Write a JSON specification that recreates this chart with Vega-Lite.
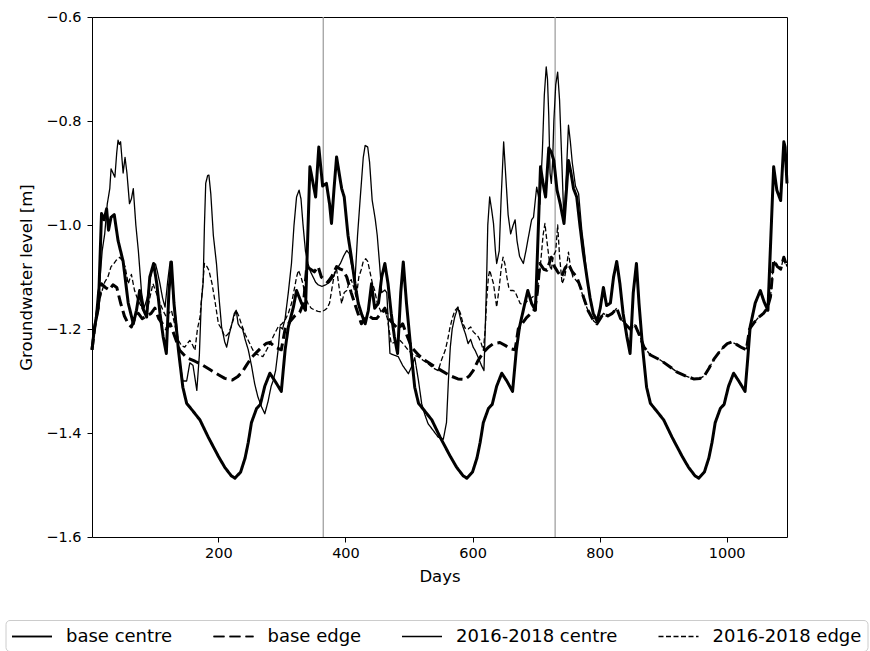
{
"$schema": "https://vega.github.io/schema/vega-lite/v6.json",
"width": 695,
"height": 520,
"autosize": {"type": "none"},
"padding": {"left": 92, "top": 17, "right": 83, "bottom": 114},
"background": "white",
"config": {
  "font": "DejaVu Sans",
  "view": {"stroke": "black", "strokeWidth": 1},
  "axis": {"domain": false, "grid": false, "tickColor": "black", "tickSize": 5, "tickWidth": 1, "labelColor": "black", "labelFont": "DejaVu Sans", "labelFontSize": 14.5, "titleFont": "DejaVu Sans", "titleFontSize": 16.5, "titleFontWeight": "normal", "titleColor": "black"}
},
"datasets": {
"base": [
{"s":"base centre","d":1,"v":-1.24},{"s":"base centre","d":5,"v":-1.196},{"s":"base centre","d":11,"v":-1.16},{"s":"base centre","d":16,"v":-0.978},{"s":"base centre","d":20,"v":-0.99},{"s":"base centre","d":24,"v":-0.969},{"s":"base centre","d":27,"v":-1.01},{"s":"base centre","d":31,"v":-0.985},{"s":"base centre","d":36,"v":-0.98},{"s":"base centre","d":42,"v":-1.03},{"s":"base centre","d":50,"v":-1.07},{"s":"base centre","d":58,"v":-1.15},{"s":"base centre","d":66,"v":-1.19},{"s":"base centre","d":71,"v":-1.164},{"s":"base centre","d":76,"v":-1.126},{"s":"base centre","d":81,"v":-1.16},{"s":"base centre","d":87,"v":-1.177},{"s":"base centre","d":92,"v":-1.1},{"s":"base centre","d":98,"v":-1.074},{"s":"base centre","d":103,"v":-1.113},{"s":"base centre","d":108,"v":-1.17},{"s":"base centre","d":113,"v":-1.215},{"s":"base centre","d":118,"v":-1.247},{"s":"base centre","d":122,"v":-1.13},{"s":"base centre","d":126,"v":-1.071},{"s":"base centre","d":130,"v":-1.15},{"s":"base centre","d":137,"v":-1.24},{"s":"base centre","d":144,"v":-1.312},{"s":"base centre","d":150,"v":-1.343},{"s":"base centre","d":160,"v":-1.358},{"s":"base centre","d":171,"v":-1.375},{"s":"base centre","d":184,"v":-1.408},{"s":"base centre","d":200,"v":-1.445},{"s":"base centre","d":210,"v":-1.466},{"s":"base centre","d":220,"v":-1.482},{"s":"base centre","d":226,"v":-1.487},{"s":"base centre","d":235,"v":-1.475},{"s":"base centre","d":242,"v":-1.448},{"s":"base centre","d":247,"v":-1.418},{"s":"base centre","d":252,"v":-1.38},{"s":"base centre","d":260,"v":-1.353},{"s":"base centre","d":266,"v":-1.345},{"s":"base centre","d":273,"v":-1.31},{"s":"base centre","d":281,"v":-1.285},{"s":"base centre","d":289,"v":-1.3},{"s":"base centre","d":299,"v":-1.32},{"s":"base centre","d":305,"v":-1.24},{"s":"base centre","d":310,"v":-1.196},{"s":"base centre","d":318,"v":-1.158},{"s":"base centre","d":323,"v":-1.126},{"s":"base centre","d":331,"v":-1.151},{"s":"base centre","d":337,"v":-1.164},{"s":"base centre","d":344,"v":-0.888},{"s":"base centre","d":349,"v":-0.92},{"s":"base centre","d":353,"v":-0.946},{"s":"base centre","d":358,"v":-0.85},{"s":"base centre","d":364,"v":-0.925},{"s":"base centre","d":370,"v":-0.92},{"s":"base centre","d":375,"v":-0.96},{"s":"base centre","d":378,"v":-0.997},{"s":"base centre","d":382,"v":-0.93},{"s":"base centre","d":386,"v":-0.869},{"s":"base centre","d":390,"v":-0.9},{"s":"base centre","d":394,"v":-0.93},{"s":"base centre","d":398,"v":-0.946},{"s":"base centre","d":404,"v":-1.02},{"s":"base centre","d":409,"v":-1.06},{"s":"base centre","d":415,"v":-1.113},{"s":"base centre","d":420,"v":-1.15},{"s":"base centre","d":425,"v":-1.17},{"s":"base centre","d":431,"v":-1.19},{"s":"base centre","d":436,"v":-1.164},{"s":"base centre","d":441,"v":-1.113},{"s":"base centre","d":446,"v":-1.16},{"s":"base centre","d":452,"v":-1.15},{"s":"base centre","d":457,"v":-1.1},{"s":"base centre","d":462,"v":-1.074},{"s":"base centre","d":467,"v":-1.113},{"s":"base centre","d":472,"v":-1.17},{"s":"base centre","d":477,"v":-1.215},{"s":"base centre","d":482,"v":-1.247},{"s":"base centre","d":487,"v":-1.13},{"s":"base centre","d":491,"v":-1.071},{"s":"base centre","d":496,"v":-1.15},{"s":"base centre","d":503,"v":-1.24},{"s":"base centre","d":509,"v":-1.312},{"s":"base centre","d":515,"v":-1.343},{"s":"base centre","d":525,"v":-1.358},{"s":"base centre","d":536,"v":-1.375},{"s":"base centre","d":549,"v":-1.408},{"s":"base centre","d":565,"v":-1.445},{"s":"base centre","d":575,"v":-1.466},{"s":"base centre","d":585,"v":-1.482},{"s":"base centre","d":591,"v":-1.487},{"s":"base centre","d":600,"v":-1.475},{"s":"base centre","d":607,"v":-1.448},{"s":"base centre","d":612,"v":-1.418},{"s":"base centre","d":617,"v":-1.38},{"s":"base centre","d":625,"v":-1.353},{"s":"base centre","d":631,"v":-1.345},{"s":"base centre","d":638,"v":-1.31},{"s":"base centre","d":646,"v":-1.285},{"s":"base centre","d":654,"v":-1.3},{"s":"base centre","d":663,"v":-1.32},{"s":"base centre","d":669,"v":-1.24},{"s":"base centre","d":674,"v":-1.196},{"s":"base centre","d":681,"v":-1.158},{"s":"base centre","d":687,"v":-1.126},{"s":"base centre","d":693,"v":-1.151},{"s":"base centre","d":699,"v":-1.164},{"s":"base centre","d":707,"v":-0.888},{"s":"base centre","d":711,"v":-0.92},{"s":"base centre","d":715,"v":-0.946},{"s":"base centre","d":720,"v":-0.852},{"s":"base centre","d":724,"v":-0.86},{"s":"base centre","d":728,"v":-0.876},{"s":"base centre","d":733,"v":-0.933},{"s":"base centre","d":738,"v":-0.959},{"s":"base centre","d":744,"v":-0.997},{"s":"base centre","d":748,"v":-0.93},{"s":"base centre","d":751,"v":-0.876},{"s":"base centre","d":755,"v":-0.9},{"s":"base centre","d":759,"v":-0.93},{"s":"base centre","d":764,"v":-0.946},{"s":"base centre","d":769,"v":-1.0},{"s":"base centre","d":774,"v":-1.05},{"s":"base centre","d":780,"v":-1.1},{"s":"base centre","d":785,"v":-1.14},{"s":"base centre","d":790,"v":-1.17},{"s":"base centre","d":796,"v":-1.185},{"s":"base centre","d":801,"v":-1.16},{"s":"base centre","d":806,"v":-1.12},{"s":"base centre","d":811,"v":-1.155},{"s":"base centre","d":817,"v":-1.15},{"s":"base centre","d":822,"v":-1.1},{"s":"base centre","d":827,"v":-1.07},{"s":"base centre","d":832,"v":-1.113},{"s":"base centre","d":837,"v":-1.17},{"s":"base centre","d":843,"v":-1.215},{"s":"base centre","d":848,"v":-1.247},{"s":"base centre","d":853,"v":-1.13},{"s":"base centre","d":858,"v":-1.074},{"s":"base centre","d":862,"v":-1.15},{"s":"base centre","d":868,"v":-1.24},{"s":"base centre","d":874,"v":-1.312},{"s":"base centre","d":880,"v":-1.343},{"s":"base centre","d":890,"v":-1.358},{"s":"base centre","d":901,"v":-1.375},{"s":"base centre","d":914,"v":-1.408},{"s":"base centre","d":930,"v":-1.445},{"s":"base centre","d":940,"v":-1.466},{"s":"base centre","d":950,"v":-1.482},{"s":"base centre","d":956,"v":-1.487},{"s":"base centre","d":965,"v":-1.475},{"s":"base centre","d":972,"v":-1.448},{"s":"base centre","d":977,"v":-1.418},{"s":"base centre","d":982,"v":-1.38},{"s":"base centre","d":990,"v":-1.353},{"s":"base centre","d":996,"v":-1.345},{"s":"base centre","d":1003,"v":-1.31},{"s":"base centre","d":1011,"v":-1.285},{"s":"base centre","d":1019,"v":-1.3},{"s":"base centre","d":1029,"v":-1.32},{"s":"base centre","d":1033,"v":-1.26},{"s":"base centre","d":1037,"v":-1.196},{"s":"base centre","d":1045,"v":-1.15},{"s":"base centre","d":1053,"v":-1.126},{"s":"base centre","d":1059,"v":-1.148},{"s":"base centre","d":1065,"v":-1.164},{"s":"base centre","d":1074,"v":-0.888},{"s":"base centre","d":1079,"v":-0.933},{"s":"base centre","d":1085,"v":-0.953},{"s":"base centre","d":1090,"v":-0.84},{"s":"base centre","d":1092,"v":-0.85},{"s":"base centre","d":1095,"v":-0.92},
{"s":"base edge","d":1,"v":-1.24},{"s":"base edge","d":5,"v":-1.2},{"s":"base edge","d":10,"v":-1.16},{"s":"base edge","d":16,"v":-1.113},{"s":"base edge","d":22,"v":-1.12},{"s":"base edge","d":28,"v":-1.125},{"s":"base edge","d":34,"v":-1.115},{"s":"base edge","d":40,"v":-1.12},{"s":"base edge","d":46,"v":-1.15},{"s":"base edge","d":52,"v":-1.175},{"s":"base edge","d":58,"v":-1.19},{"s":"base edge","d":63,"v":-1.196},{"s":"base edge","d":68,"v":-1.18},{"s":"base edge","d":74,"v":-1.17},{"s":"base edge","d":80,"v":-1.18},{"s":"base edge","d":87,"v":-1.175},{"s":"base edge","d":94,"v":-1.17},{"s":"base edge","d":100,"v":-1.16},{"s":"base edge","d":106,"v":-1.18},{"s":"base edge","d":112,"v":-1.19},{"s":"base edge","d":118,"v":-1.2},{"s":"base edge","d":124,"v":-1.19},{"s":"base edge","d":130,"v":-1.21},{"s":"base edge","d":139,"v":-1.241},{"s":"base edge","d":150,"v":-1.255},{"s":"base edge","d":163,"v":-1.262},{"s":"base edge","d":176,"v":-1.27},{"s":"base edge","d":189,"v":-1.28},{"s":"base edge","d":200,"v":-1.288},{"s":"base edge","d":210,"v":-1.295},{"s":"base edge","d":222,"v":-1.298},{"s":"base edge","d":230,"v":-1.292},{"s":"base edge","d":238,"v":-1.282},{"s":"base edge","d":244,"v":-1.27},{"s":"base edge","d":252,"v":-1.255},{"s":"base edge","d":260,"v":-1.245},{"s":"base edge","d":268,"v":-1.235},{"s":"base edge","d":275,"v":-1.228},{"s":"base edge","d":281,"v":-1.226},{"s":"base edge","d":290,"v":-1.235},{"s":"base edge","d":299,"v":-1.24},{"s":"base edge","d":305,"v":-1.2},{"s":"base edge","d":313,"v":-1.185},{"s":"base edge","d":320,"v":-1.175},{"s":"base edge","d":328,"v":-1.168},{"s":"base edge","d":334,"v":-1.15},{"s":"base edge","d":339,"v":-1.08},{"s":"base edge","d":345,"v":-1.085},{"s":"base edge","d":351,"v":-1.09},{"s":"base edge","d":357,"v":-1.08},{"s":"base edge","d":362,"v":-1.1},{"s":"base edge","d":367,"v":-1.105},{"s":"base edge","d":372,"v":-1.11},{"s":"base edge","d":378,"v":-1.1},{"s":"base edge","d":386,"v":-1.08},{"s":"base edge","d":392,"v":-1.085},{"s":"base edge","d":396,"v":-1.087},{"s":"base edge","d":402,"v":-1.1},{"s":"base edge","d":409,"v":-1.13},{"s":"base edge","d":417,"v":-1.16},{"s":"base edge","d":425,"v":-1.19},{"s":"base edge","d":431,"v":-1.18},{"s":"base edge","d":437,"v":-1.175},{"s":"base edge","d":443,"v":-1.18},{"s":"base edge","d":449,"v":-1.18},{"s":"base edge","d":456,"v":-1.17},{"s":"base edge","d":462,"v":-1.16},{"s":"base edge","d":468,"v":-1.18},{"s":"base edge","d":475,"v":-1.19},{"s":"base edge","d":483,"v":-1.2},{"s":"base edge","d":490,"v":-1.19},{"s":"base edge","d":496,"v":-1.21},{"s":"base edge","d":504,"v":-1.235},{"s":"base edge","d":515,"v":-1.25},{"s":"base edge","d":525,"v":-1.26},{"s":"base edge","d":540,"v":-1.272},{"s":"base edge","d":551,"v":-1.28},{"s":"base edge","d":565,"v":-1.29},{"s":"base edge","d":577,"v":-1.296},{"s":"base edge","d":588,"v":-1.297},{"s":"base edge","d":595,"v":-1.29},{"s":"base edge","d":601,"v":-1.28},{"s":"base edge","d":609,"v":-1.26},{"s":"base edge","d":617,"v":-1.245},{"s":"base edge","d":625,"v":-1.235},{"s":"base edge","d":633,"v":-1.228},{"s":"base edge","d":643,"v":-1.226},{"s":"base edge","d":652,"v":-1.232},{"s":"base edge","d":660,"v":-1.238},{"s":"base edge","d":667,"v":-1.24},{"s":"base edge","d":672,"v":-1.2},{"s":"base edge","d":678,"v":-1.19},{"s":"base edge","d":685,"v":-1.178},{"s":"base edge","d":692,"v":-1.17},{"s":"base edge","d":698,"v":-1.162},{"s":"base edge","d":702,"v":-1.13},{"s":"base edge","d":706,"v":-1.074},{"s":"base edge","d":712,"v":-1.085},{"s":"base edge","d":717,"v":-1.087},{"s":"base edge","d":724,"v":-1.062},{"s":"base edge","d":729,"v":-1.08},{"s":"base edge","d":734,"v":-1.09},{"s":"base edge","d":740,"v":-1.1},{"s":"base edge","d":746,"v":-1.082},{"s":"base edge","d":751,"v":-1.075},{"s":"base edge","d":757,"v":-1.09},{"s":"base edge","d":764,"v":-1.1},{"s":"base edge","d":770,"v":-1.12},{"s":"base edge","d":775,"v":-1.14},{"s":"base edge","d":782,"v":-1.165},{"s":"base edge","d":791,"v":-1.185},{"s":"base edge","d":796,"v":-1.19},{"s":"base edge","d":801,"v":-1.18},{"s":"base edge","d":806,"v":-1.17},{"s":"base edge","d":813,"v":-1.175},{"s":"base edge","d":820,"v":-1.17},{"s":"base edge","d":827,"v":-1.16},{"s":"base edge","d":833,"v":-1.18},{"s":"base edge","d":840,"v":-1.19},{"s":"base edge","d":848,"v":-1.2},{"s":"base edge","d":855,"v":-1.19},{"s":"base edge","d":862,"v":-1.21},{"s":"base edge","d":870,"v":-1.235},{"s":"base edge","d":880,"v":-1.25},{"s":"base edge","d":896,"v":-1.26},{"s":"base edge","d":910,"v":-1.272},{"s":"base edge","d":922,"v":-1.283},{"s":"base edge","d":935,"v":-1.29},{"s":"base edge","d":948,"v":-1.296},{"s":"base edge","d":958,"v":-1.295},{"s":"base edge","d":965,"v":-1.29},{"s":"base edge","d":972,"v":-1.276},{"s":"base edge","d":980,"v":-1.258},{"s":"base edge","d":988,"v":-1.245},{"s":"base edge","d":995,"v":-1.235},{"s":"base edge","d":1001,"v":-1.228},{"s":"base edge","d":1008,"v":-1.225},{"s":"base edge","d":1016,"v":-1.23},{"s":"base edge","d":1024,"v":-1.236},{"s":"base edge","d":1031,"v":-1.24},{"s":"base edge","d":1036,"v":-1.2},{"s":"base edge","d":1043,"v":-1.188},{"s":"base edge","d":1050,"v":-1.178},{"s":"base edge","d":1058,"v":-1.17},{"s":"base edge","d":1064,"v":-1.16},{"s":"base edge","d":1069,"v":-1.138},{"s":"base edge","d":1074,"v":-1.068},{"s":"base edge","d":1080,"v":-1.08},{"s":"base edge","d":1085,"v":-1.085},{"s":"base edge","d":1090,"v":-1.062},{"s":"base edge","d":1095,"v":-1.08}
],
"obs": [
{"s":"2016-2018 centre","d":1,"v":-1.24},{"s":"2016-2018 centre","d":5,"v":-1.2},{"s":"2016-2018 centre","d":10,"v":-1.13},{"s":"2016-2018 centre","d":13,"v":-1.113},{"s":"2016-2018 centre","d":17,"v":-1.05},{"s":"2016-2018 centre","d":21,"v":-1.017},{"s":"2016-2018 centre","d":25,"v":-0.96},{"s":"2016-2018 centre","d":29,"v":-0.93},{"s":"2016-2018 centre","d":31,"v":-0.892},{"s":"2016-2018 centre","d":34,"v":-0.9},{"s":"2016-2018 centre","d":37,"v":-0.908},{"s":"2016-2018 centre","d":40,"v":-0.86},{"s":"2016-2018 centre","d":42,"v":-0.837},{"s":"2016-2018 centre","d":44,"v":-0.845},{"s":"2016-2018 centre","d":46,"v":-0.84},{"s":"2016-2018 centre","d":48,"v":-0.87},{"s":"2016-2018 centre","d":50,"v":-0.9},{"s":"2016-2018 centre","d":53,"v":-0.87},{"s":"2016-2018 centre","d":56,"v":-0.9},{"s":"2016-2018 centre","d":60,"v":-0.959},{"s":"2016-2018 centre","d":63,"v":-0.95},{"s":"2016-2018 centre","d":66,"v":-0.93},{"s":"2016-2018 centre","d":70,"v":-1.0},{"s":"2016-2018 centre","d":74,"v":-1.05},{"s":"2016-2018 centre","d":79,"v":-1.13},{"s":"2016-2018 centre","d":83,"v":-1.16},{"s":"2016-2018 centre","d":88,"v":-1.14},{"s":"2016-2018 centre","d":93,"v":-1.1},{"s":"2016-2018 centre","d":97,"v":-1.08},{"s":"2016-2018 centre","d":101,"v":-1.075},{"s":"2016-2018 centre","d":104,"v":-1.09},{"s":"2016-2018 centre","d":108,"v":-1.113},{"s":"2016-2018 centre","d":112,"v":-1.14},{"s":"2016-2018 centre","d":116,"v":-1.158},{"s":"2016-2018 centre","d":120,"v":-1.11},{"s":"2016-2018 centre","d":124,"v":-1.07},{"s":"2016-2018 centre","d":129,"v":-1.14},{"s":"2016-2018 centre","d":134,"v":-1.19},{"s":"2016-2018 centre","d":140,"v":-1.27},{"s":"2016-2018 centre","d":144,"v":-1.3},{"s":"2016-2018 centre","d":150,"v":-1.3},{"s":"2016-2018 centre","d":155,"v":-1.265},{"s":"2016-2018 centre","d":160,"v":-1.27},{"s":"2016-2018 centre","d":166,"v":-1.318},{"s":"2016-2018 centre","d":170,"v":-1.25},{"s":"2016-2018 centre","d":173,"v":-1.15},{"s":"2016-2018 centre","d":176,"v":-1.11},{"s":"2016-2018 centre","d":178,"v":-1.0},{"s":"2016-2018 centre","d":180,"v":-0.92},{"s":"2016-2018 centre","d":183,"v":-0.905},{"s":"2016-2018 centre","d":185,"v":-0.904},{"s":"2016-2018 centre","d":188,"v":-0.94},{"s":"2016-2018 centre","d":192,"v":-1.02},{"s":"2016-2018 centre","d":197,"v":-1.075},{"s":"2016-2018 centre","d":201,"v":-1.14},{"s":"2016-2018 centre","d":205,"v":-1.196},{"s":"2016-2018 centre","d":210,"v":-1.225},{"s":"2016-2018 centre","d":213,"v":-1.235},{"s":"2016-2018 centre","d":217,"v":-1.21},{"s":"2016-2018 centre","d":220,"v":-1.196},{"s":"2016-2018 centre","d":225,"v":-1.17},{"s":"2016-2018 centre","d":228,"v":-1.164},{"s":"2016-2018 centre","d":231,"v":-1.19},{"s":"2016-2018 centre","d":234,"v":-1.196},{"s":"2016-2018 centre","d":238,"v":-1.2},{"s":"2016-2018 centre","d":242,"v":-1.22},{"s":"2016-2018 centre","d":247,"v":-1.24},{"s":"2016-2018 centre","d":252,"v":-1.27},{"s":"2016-2018 centre","d":257,"v":-1.305},{"s":"2016-2018 centre","d":262,"v":-1.33},{"s":"2016-2018 centre","d":268,"v":-1.35},{"s":"2016-2018 centre","d":273,"v":-1.363},{"s":"2016-2018 centre","d":278,"v":-1.34},{"s":"2016-2018 centre","d":283,"v":-1.31},{"s":"2016-2018 centre","d":286,"v":-1.3},{"s":"2016-2018 centre","d":290,"v":-1.28},{"s":"2016-2018 centre","d":294,"v":-1.24},{"s":"2016-2018 centre","d":297,"v":-1.196},{"s":"2016-2018 centre","d":301,"v":-1.2},{"s":"2016-2018 centre","d":305,"v":-1.18},{"s":"2016-2018 centre","d":310,"v":-1.13},{"s":"2016-2018 centre","d":315,"v":-1.074},{"s":"2016-2018 centre","d":319,"v":-1.0},{"s":"2016-2018 centre","d":323,"v":-0.946},{"s":"2016-2018 centre","d":327,"v":-0.933},{"s":"2016-2018 centre","d":330,"v":-0.95},{"s":"2016-2018 centre","d":333,"v":-0.997},{"s":"2016-2018 centre","d":337,"v":-1.05},{"s":"2016-2018 centre","d":341,"v":-1.074},{"s":"2016-2018 centre","d":345,"v":-1.09},{"s":"2016-2018 centre","d":349,"v":-1.1},{"s":"2016-2018 centre","d":353,"v":-1.11},{"s":"2016-2018 centre","d":357,"v":-1.115},{"s":"2016-2018 centre","d":363,"v":-1.118},{"s":"2016-2018 centre","d":369,"v":-1.115},{"s":"2016-2018 centre","d":375,"v":-1.11},{"s":"2016-2018 centre","d":381,"v":-1.1},{"s":"2016-2018 centre","d":386,"v":-1.085},{"s":"2016-2018 centre","d":392,"v":-1.074},{"s":"2016-2018 centre","d":397,"v":-1.06},{"s":"2016-2018 centre","d":402,"v":-1.049},{"s":"2016-2018 centre","d":406,"v":-1.055},{"s":"2016-2018 centre","d":410,"v":-1.08},{"s":"2016-2018 centre","d":415,"v":-1.106},{"s":"2016-2018 centre","d":419,"v":-1.02},{"s":"2016-2018 centre","d":423,"v":-0.952},{"s":"2016-2018 centre","d":428,"v":-0.87},{"s":"2016-2018 centre","d":431,"v":-0.847},{"s":"2016-2018 centre","d":435,"v":-0.85},{"s":"2016-2018 centre","d":438,"v":-0.88},{"s":"2016-2018 centre","d":442,"v":-0.952},{"s":"2016-2018 centre","d":447,"v":-0.99},{"s":"2016-2018 centre","d":450,"v":-1.02},{"s":"2016-2018 centre","d":454,"v":-1.08},{"s":"2016-2018 centre","d":457,"v":-1.13},{"s":"2016-2018 centre","d":462,"v":-1.125},{"s":"2016-2018 centre","d":465,"v":-1.13},{"s":"2016-2018 centre","d":468,"v":-1.2},{"s":"2016-2018 centre","d":470,"v":-1.247},{"s":"2016-2018 centre","d":476,"v":-1.25},{"s":"2016-2018 centre","d":483,"v":-1.253},{"s":"2016-2018 centre","d":490,"v":-1.27},{"s":"2016-2018 centre","d":499,"v":-1.286},{"s":"2016-2018 centre","d":505,"v":-1.27},{"s":"2016-2018 centre","d":509,"v":-1.255},{"s":"2016-2018 centre","d":515,"v":-1.3},{"s":"2016-2018 centre","d":520,"v":-1.344},{"s":"2016-2018 centre","d":525,"v":-1.365},{"s":"2016-2018 centre","d":530,"v":-1.382},{"s":"2016-2018 centre","d":538,"v":-1.395},{"s":"2016-2018 centre","d":546,"v":-1.408},{"s":"2016-2018 centre","d":554,"v":-1.412},{"s":"2016-2018 centre","d":559,"v":-1.38},{"s":"2016-2018 centre","d":562,"v":-1.3},{"s":"2016-2018 centre","d":565,"v":-1.235},{"s":"2016-2018 centre","d":568,"v":-1.2},{"s":"2016-2018 centre","d":572,"v":-1.177},{"s":"2016-2018 centre","d":577,"v":-1.158},{"s":"2016-2018 centre","d":581,"v":-1.18},{"s":"2016-2018 centre","d":585,"v":-1.196},{"s":"2016-2018 centre","d":589,"v":-1.21},{"s":"2016-2018 centre","d":593,"v":-1.228},{"s":"2016-2018 centre","d":597,"v":-1.22},{"s":"2016-2018 centre","d":601,"v":-1.235},{"s":"2016-2018 centre","d":604,"v":-1.241},{"s":"2016-2018 centre","d":609,"v":-1.255},{"s":"2016-2018 centre","d":614,"v":-1.27},{"s":"2016-2018 centre","d":618,"v":-1.28},{"s":"2016-2018 centre","d":620,"v":-1.2},{"s":"2016-2018 centre","d":622,"v":-1.113},{"s":"2016-2018 centre","d":624,"v":-1.0},{"s":"2016-2018 centre","d":627,"v":-0.946},{"s":"2016-2018 centre","d":630,"v":-0.97},{"s":"2016-2018 centre","d":633,"v":-0.997},{"s":"2016-2018 centre","d":636,"v":-1.05},{"s":"2016-2018 centre","d":638,"v":-1.074},{"s":"2016-2018 centre","d":642,"v":-1.05},{"s":"2016-2018 centre","d":645,"v":-0.95},{"s":"2016-2018 centre","d":649,"v":-0.84},{"s":"2016-2018 centre","d":652,"v":-0.9},{"s":"2016-2018 centre","d":656,"v":-0.98},{"s":"2016-2018 centre","d":660,"v":-1.017},{"s":"2016-2018 centre","d":664,"v":-1.0},{"s":"2016-2018 centre","d":667,"v":-0.99},{"s":"2016-2018 centre","d":670,"v":-1.03},{"s":"2016-2018 centre","d":674,"v":-1.06},{"s":"2016-2018 centre","d":680,"v":-1.074},{"s":"2016-2018 centre","d":684,"v":-1.05},{"s":"2016-2018 centre","d":688,"v":-1.023},{"s":"2016-2018 centre","d":693,"v":-0.99},{"s":"2016-2018 centre","d":696,"v":-0.985},{"s":"2016-2018 centre","d":699,"v":-0.95},{"s":"2016-2018 centre","d":701,"v":-0.927},{"s":"2016-2018 centre","d":703,"v":-0.94},{"s":"2016-2018 centre","d":706,"v":-0.96},{"s":"2016-2018 centre","d":710,"v":-0.856},{"s":"2016-2018 centre","d":713,"v":-0.75},{"s":"2016-2018 centre","d":716,"v":-0.696},{"s":"2016-2018 centre","d":718,"v":-0.72},{"s":"2016-2018 centre","d":720,"v":-0.79},{"s":"2016-2018 centre","d":722,"v":-0.9},{"s":"2016-2018 centre","d":724,"v":-0.92},{"s":"2016-2018 centre","d":726,"v":-0.88},{"s":"2016-2018 centre","d":728,"v":-0.8},{"s":"2016-2018 centre","d":731,"v":-0.73},{"s":"2016-2018 centre","d":734,"v":-0.706},{"s":"2016-2018 centre","d":737,"v":-0.76},{"s":"2016-2018 centre","d":740,"v":-0.86},{"s":"2016-2018 centre","d":744,"v":-0.997},{"s":"2016-2018 centre","d":747,"v":-0.92},{"s":"2016-2018 centre","d":751,"v":-0.808},{"s":"2016-2018 centre","d":754,"v":-0.84},{"s":"2016-2018 centre","d":757,"v":-0.88},{"s":"2016-2018 centre","d":762,"v":-0.925},{"s":"2016-2018 centre","d":767,"v":-0.94},{"s":"2016-2018 centre","d":772,"v":-1.01},{"s":"2016-2018 centre","d":776,"v":-1.05},{"s":"2016-2018 centre","d":780,"v":-1.1},{"s":"2016-2018 centre","d":785,"v":-1.14},{"s":"2016-2018 centre","d":790,"v":-1.17},{"s":"2016-2018 centre","d":796,"v":-1.185},{"s":"2016-2018 centre","d":801,"v":-1.16},{"s":"2016-2018 centre","d":806,"v":-1.12},{"s":"2016-2018 centre","d":811,"v":-1.155},{"s":"2016-2018 centre","d":817,"v":-1.15},{"s":"2016-2018 centre","d":822,"v":-1.1},{"s":"2016-2018 centre","d":827,"v":-1.07},{"s":"2016-2018 centre","d":832,"v":-1.113},{"s":"2016-2018 centre","d":837,"v":-1.17},{"s":"2016-2018 centre","d":843,"v":-1.215},{"s":"2016-2018 centre","d":848,"v":-1.247},{"s":"2016-2018 centre","d":853,"v":-1.13},{"s":"2016-2018 centre","d":858,"v":-1.074},{"s":"2016-2018 centre","d":862,"v":-1.15},{"s":"2016-2018 centre","d":868,"v":-1.24},{"s":"2016-2018 centre","d":874,"v":-1.312},{"s":"2016-2018 centre","d":880,"v":-1.343},{"s":"2016-2018 centre","d":890,"v":-1.358},{"s":"2016-2018 centre","d":901,"v":-1.375},{"s":"2016-2018 centre","d":914,"v":-1.408},{"s":"2016-2018 centre","d":930,"v":-1.445},{"s":"2016-2018 centre","d":940,"v":-1.466},{"s":"2016-2018 centre","d":950,"v":-1.482},{"s":"2016-2018 centre","d":956,"v":-1.487},{"s":"2016-2018 centre","d":965,"v":-1.475},{"s":"2016-2018 centre","d":972,"v":-1.448},{"s":"2016-2018 centre","d":977,"v":-1.418},{"s":"2016-2018 centre","d":982,"v":-1.38},{"s":"2016-2018 centre","d":990,"v":-1.353},{"s":"2016-2018 centre","d":996,"v":-1.345},{"s":"2016-2018 centre","d":1003,"v":-1.31},{"s":"2016-2018 centre","d":1011,"v":-1.285},{"s":"2016-2018 centre","d":1019,"v":-1.3},{"s":"2016-2018 centre","d":1029,"v":-1.32},{"s":"2016-2018 centre","d":1033,"v":-1.26},{"s":"2016-2018 centre","d":1037,"v":-1.196},{"s":"2016-2018 centre","d":1045,"v":-1.15},{"s":"2016-2018 centre","d":1053,"v":-1.126},{"s":"2016-2018 centre","d":1059,"v":-1.148},{"s":"2016-2018 centre","d":1065,"v":-1.164},{"s":"2016-2018 centre","d":1074,"v":-0.888},{"s":"2016-2018 centre","d":1079,"v":-0.933},{"s":"2016-2018 centre","d":1085,"v":-0.953},{"s":"2016-2018 centre","d":1090,"v":-0.84},{"s":"2016-2018 centre","d":1092,"v":-0.85},{"s":"2016-2018 centre","d":1095,"v":-0.92},
{"s":"2016-2018 edge","d":1,"v":-1.24},{"s":"2016-2018 edge","d":5,"v":-1.2},{"s":"2016-2018 edge","d":10,"v":-1.16},{"s":"2016-2018 edge","d":16,"v":-1.13},{"s":"2016-2018 edge","d":21,"v":-1.11},{"s":"2016-2018 edge","d":26,"v":-1.1},{"s":"2016-2018 edge","d":31,"v":-1.08},{"s":"2016-2018 edge","d":35,"v":-1.075},{"s":"2016-2018 edge","d":39,"v":-1.068},{"s":"2016-2018 edge","d":45,"v":-1.062},{"s":"2016-2018 edge","d":49,"v":-1.07},{"s":"2016-2018 edge","d":53,"v":-1.08},{"s":"2016-2018 edge","d":58,"v":-1.113},{"s":"2016-2018 edge","d":63,"v":-1.095},{"s":"2016-2018 edge","d":68,"v":-1.126},{"s":"2016-2018 edge","d":72,"v":-1.14},{"s":"2016-2018 edge","d":76,"v":-1.151},{"s":"2016-2018 edge","d":82,"v":-1.165},{"s":"2016-2018 edge","d":87,"v":-1.17},{"s":"2016-2018 edge","d":92,"v":-1.14},{"s":"2016-2018 edge","d":97,"v":-1.113},{"s":"2016-2018 edge","d":102,"v":-1.13},{"s":"2016-2018 edge","d":108,"v":-1.15},{"s":"2016-2018 edge","d":113,"v":-1.165},{"s":"2016-2018 edge","d":118,"v":-1.177},{"s":"2016-2018 edge","d":122,"v":-1.17},{"s":"2016-2018 edge","d":126,"v":-1.164},{"s":"2016-2018 edge","d":131,"v":-1.19},{"s":"2016-2018 edge","d":137,"v":-1.222},{"s":"2016-2018 edge","d":142,"v":-1.232},{"s":"2016-2018 edge","d":147,"v":-1.235},{"s":"2016-2018 edge","d":151,"v":-1.228},{"s":"2016-2018 edge","d":155,"v":-1.222},{"s":"2016-2018 edge","d":159,"v":-1.23},{"s":"2016-2018 edge","d":163,"v":-1.241},{"s":"2016-2018 edge","d":167,"v":-1.2},{"s":"2016-2018 edge","d":171,"v":-1.177},{"s":"2016-2018 edge","d":175,"v":-1.12},{"s":"2016-2018 edge","d":178,"v":-1.074},{"s":"2016-2018 edge","d":182,"v":-1.08},{"s":"2016-2018 edge","d":185,"v":-1.087},{"s":"2016-2018 edge","d":190,"v":-1.113},{"s":"2016-2018 edge","d":195,"v":-1.15},{"s":"2016-2018 edge","d":200,"v":-1.19},{"s":"2016-2018 edge","d":205,"v":-1.2},{"s":"2016-2018 edge","d":210,"v":-1.215},{"s":"2016-2018 edge","d":215,"v":-1.21},{"s":"2016-2018 edge","d":220,"v":-1.196},{"s":"2016-2018 edge","d":224,"v":-1.18},{"s":"2016-2018 edge","d":228,"v":-1.164},{"s":"2016-2018 edge","d":232,"v":-1.175},{"s":"2016-2018 edge","d":236,"v":-1.19},{"s":"2016-2018 edge","d":242,"v":-1.21},{"s":"2016-2018 edge","d":247,"v":-1.222},{"s":"2016-2018 edge","d":252,"v":-1.235},{"s":"2016-2018 edge","d":257,"v":-1.247},{"s":"2016-2018 edge","d":263,"v":-1.25},{"s":"2016-2018 edge","d":270,"v":-1.253},{"s":"2016-2018 edge","d":276,"v":-1.24},{"s":"2016-2018 edge","d":281,"v":-1.228},{"s":"2016-2018 edge","d":288,"v":-1.21},{"s":"2016-2018 edge","d":294,"v":-1.196},{"s":"2016-2018 edge","d":300,"v":-1.19},{"s":"2016-2018 edge","d":305,"v":-1.183},{"s":"2016-2018 edge","d":310,"v":-1.17},{"s":"2016-2018 edge","d":315,"v":-1.151},{"s":"2016-2018 edge","d":320,"v":-1.12},{"s":"2016-2018 edge","d":323,"v":-1.1},{"s":"2016-2018 edge","d":326,"v":-1.087},{"s":"2016-2018 edge","d":330,"v":-1.1},{"s":"2016-2018 edge","d":333,"v":-1.113},{"s":"2016-2018 edge","d":337,"v":-1.14},{"s":"2016-2018 edge","d":341,"v":-1.151},{"s":"2016-2018 edge","d":346,"v":-1.16},{"s":"2016-2018 edge","d":352,"v":-1.164},{"s":"2016-2018 edge","d":357,"v":-1.166},{"s":"2016-2018 edge","d":362,"v":-1.167},{"s":"2016-2018 edge","d":367,"v":-1.164},{"s":"2016-2018 edge","d":371,"v":-1.16},{"s":"2016-2018 edge","d":375,"v":-1.15},{"s":"2016-2018 edge","d":379,"v":-1.12},{"s":"2016-2018 edge","d":383,"v":-1.09},{"s":"2016-2018 edge","d":386,"v":-1.085},{"s":"2016-2018 edge","d":390,"v":-1.12},{"s":"2016-2018 edge","d":394,"v":-1.151},{"s":"2016-2018 edge","d":398,"v":-1.13},{"s":"2016-2018 edge","d":402,"v":-1.126},{"s":"2016-2018 edge","d":406,"v":-1.11},{"s":"2016-2018 edge","d":409,"v":-1.105},{"s":"2016-2018 edge","d":413,"v":-1.12},{"s":"2016-2018 edge","d":417,"v":-1.14},{"s":"2016-2018 edge","d":421,"v":-1.1},{"s":"2016-2018 edge","d":425,"v":-1.085},{"s":"2016-2018 edge","d":428,"v":-1.07},{"s":"2016-2018 edge","d":432,"v":-1.065},{"s":"2016-2018 edge","d":435,"v":-1.07},{"s":"2016-2018 edge","d":438,"v":-1.087},{"s":"2016-2018 edge","d":442,"v":-1.11},{"s":"2016-2018 edge","d":446,"v":-1.126},{"s":"2016-2018 edge","d":450,"v":-1.15},{"s":"2016-2018 edge","d":457,"v":-1.17},{"s":"2016-2018 edge","d":462,"v":-1.165},{"s":"2016-2018 edge","d":466,"v":-1.18},{"s":"2016-2018 edge","d":472,"v":-1.228},{"s":"2016-2018 edge","d":479,"v":-1.225},{"s":"2016-2018 edge","d":486,"v":-1.222},{"s":"2016-2018 edge","d":492,"v":-1.23},{"s":"2016-2018 edge","d":499,"v":-1.241},{"s":"2016-2018 edge","d":507,"v":-1.25},{"s":"2016-2018 edge","d":514,"v":-1.253},{"s":"2016-2018 edge","d":522,"v":-1.26},{"s":"2016-2018 edge","d":530,"v":-1.267},{"s":"2016-2018 edge","d":538,"v":-1.275},{"s":"2016-2018 edge","d":546,"v":-1.28},{"s":"2016-2018 edge","d":551,"v":-1.26},{"s":"2016-2018 edge","d":557,"v":-1.241},{"s":"2016-2018 edge","d":561,"v":-1.22},{"s":"2016-2018 edge","d":564,"v":-1.2},{"s":"2016-2018 edge","d":568,"v":-1.18},{"s":"2016-2018 edge","d":572,"v":-1.165},{"s":"2016-2018 edge","d":577,"v":-1.158},{"s":"2016-2018 edge","d":581,"v":-1.17},{"s":"2016-2018 edge","d":585,"v":-1.19},{"s":"2016-2018 edge","d":589,"v":-1.2},{"s":"2016-2018 edge","d":593,"v":-1.2},{"s":"2016-2018 edge","d":597,"v":-1.196},{"s":"2016-2018 edge","d":601,"v":-1.205},{"s":"2016-2018 edge","d":605,"v":-1.21},{"s":"2016-2018 edge","d":609,"v":-1.215},{"s":"2016-2018 edge","d":613,"v":-1.225},{"s":"2016-2018 edge","d":617,"v":-1.241},{"s":"2016-2018 edge","d":620,"v":-1.2},{"s":"2016-2018 edge","d":622,"v":-1.15},{"s":"2016-2018 edge","d":625,"v":-1.1},{"s":"2016-2018 edge","d":627,"v":-1.087},{"s":"2016-2018 edge","d":630,"v":-1.1},{"s":"2016-2018 edge","d":633,"v":-1.113},{"s":"2016-2018 edge","d":636,"v":-1.14},{"s":"2016-2018 edge","d":638,"v":-1.158},{"s":"2016-2018 edge","d":642,"v":-1.12},{"s":"2016-2018 edge","d":645,"v":-1.085},{"s":"2016-2018 edge","d":648,"v":-1.062},{"s":"2016-2018 edge","d":651,"v":-1.075},{"s":"2016-2018 edge","d":654,"v":-1.1},{"s":"2016-2018 edge","d":657,"v":-1.12},{"s":"2016-2018 edge","d":660,"v":-1.126},{"s":"2016-2018 edge","d":664,"v":-1.126},{"s":"2016-2018 edge","d":667,"v":-1.128},{"s":"2016-2018 edge","d":671,"v":-1.14},{"s":"2016-2018 edge","d":675,"v":-1.151},{"s":"2016-2018 edge","d":679,"v":-1.153},{"s":"2016-2018 edge","d":682,"v":-1.151},{"s":"2016-2018 edge","d":687,"v":-1.145},{"s":"2016-2018 edge","d":693,"v":-1.14},{"s":"2016-2018 edge","d":698,"v":-1.135},{"s":"2016-2018 edge","d":701,"v":-1.13},{"s":"2016-2018 edge","d":705,"v":-1.1},{"s":"2016-2018 edge","d":708,"v":-1.062},{"s":"2016-2018 edge","d":711,"v":-1.02},{"s":"2016-2018 edge","d":714,"v":-0.997},{"s":"2016-2018 edge","d":716,"v":-1.02},{"s":"2016-2018 edge","d":719,"v":-1.05},{"s":"2016-2018 edge","d":722,"v":-1.08},{"s":"2016-2018 edge","d":724,"v":-1.087},{"s":"2016-2018 edge","d":727,"v":-1.06},{"s":"2016-2018 edge","d":731,"v":-1.05},{"s":"2016-2018 edge","d":734,"v":-1.0},{"s":"2016-2018 edge","d":737,"v":-1.06},{"s":"2016-2018 edge","d":741,"v":-1.113},{"s":"2016-2018 edge","d":745,"v":-1.1},{"s":"2016-2018 edge","d":748,"v":-1.08},{"s":"2016-2018 edge","d":751,"v":-1.052},{"s":"2016-2018 edge","d":754,"v":-1.08},{"s":"2016-2018 edge","d":758,"v":-1.1},{"s":"2016-2018 edge","d":762,"v":-1.105},{"s":"2016-2018 edge","d":767,"v":-1.113},{"s":"2016-2018 edge","d":772,"v":-1.13},{"s":"2016-2018 edge","d":777,"v":-1.15},{"s":"2016-2018 edge","d":782,"v":-1.165},{"s":"2016-2018 edge","d":791,"v":-1.185},{"s":"2016-2018 edge","d":796,"v":-1.19},{"s":"2016-2018 edge","d":801,"v":-1.18},{"s":"2016-2018 edge","d":806,"v":-1.17},{"s":"2016-2018 edge","d":813,"v":-1.175},{"s":"2016-2018 edge","d":820,"v":-1.17},{"s":"2016-2018 edge","d":827,"v":-1.16},{"s":"2016-2018 edge","d":833,"v":-1.18},{"s":"2016-2018 edge","d":840,"v":-1.19},{"s":"2016-2018 edge","d":848,"v":-1.2},{"s":"2016-2018 edge","d":855,"v":-1.19},{"s":"2016-2018 edge","d":862,"v":-1.21},{"s":"2016-2018 edge","d":870,"v":-1.235},{"s":"2016-2018 edge","d":880,"v":-1.25},{"s":"2016-2018 edge","d":896,"v":-1.26},{"s":"2016-2018 edge","d":910,"v":-1.272},{"s":"2016-2018 edge","d":922,"v":-1.283},{"s":"2016-2018 edge","d":935,"v":-1.29},{"s":"2016-2018 edge","d":948,"v":-1.296},{"s":"2016-2018 edge","d":958,"v":-1.295},{"s":"2016-2018 edge","d":965,"v":-1.29},{"s":"2016-2018 edge","d":972,"v":-1.276},{"s":"2016-2018 edge","d":980,"v":-1.258},{"s":"2016-2018 edge","d":988,"v":-1.245},{"s":"2016-2018 edge","d":995,"v":-1.235},{"s":"2016-2018 edge","d":1001,"v":-1.228},{"s":"2016-2018 edge","d":1008,"v":-1.225},{"s":"2016-2018 edge","d":1016,"v":-1.23},{"s":"2016-2018 edge","d":1024,"v":-1.236},{"s":"2016-2018 edge","d":1031,"v":-1.24},{"s":"2016-2018 edge","d":1036,"v":-1.2},{"s":"2016-2018 edge","d":1043,"v":-1.188},{"s":"2016-2018 edge","d":1050,"v":-1.178},{"s":"2016-2018 edge","d":1058,"v":-1.17},{"s":"2016-2018 edge","d":1064,"v":-1.16},{"s":"2016-2018 edge","d":1069,"v":-1.138},{"s":"2016-2018 edge","d":1074,"v":-1.068},{"s":"2016-2018 edge","d":1080,"v":-1.08},{"s":"2016-2018 edge","d":1085,"v":-1.085},{"s":"2016-2018 edge","d":1090,"v":-1.062},{"s":"2016-2018 edge","d":1095,"v":-1.08}
]
},
"resolve": {"scale": {"strokeDash": "independent"}, "legend": {"strokeDash": "independent"}},
"layer": [
  {
    "data": {"values": [{"d": 365}, {"d": 730}]},
    "mark": {"type": "rule", "color": "#999999", "strokeWidth": 1.2},
    "encoding": {"x": {"field": "d", "type": "quantitative", "title": "Days", "scale": {"domain": [1, 1095], "nice": false, "zero": false}}}
  },
  {
    "data": {"name": "base"},
    "mark": {"type": "line", "color": "black", "strokeWidth": 3, "strokeJoin": "round"},
    "encoding": {
      "x": {"field": "d", "type": "quantitative", "title": "Days",
            "scale": {"domain": [1, 1095], "nice": false, "zero": false},
            "axis": {"values": [200, 400, 600, 800, 1000], "format": "d", "labelPadding": 4, "titlePadding": 9}},
      "y": {"field": "v", "type": "quantitative", "title": "Groundwater level [m]",
            "scale": {"domain": [-1.6, -0.6], "nice": false, "zero": false},
            "axis": {"values": [-1.6, -1.4, -1.2, -1.0, -0.8, -0.6], "format": ".1f", "labelPadding": 6, "titlePadding": 11}},
      "strokeDash": {"field": "s", "type": "nominal",
            "scale": {"domain": ["base centre", "base edge"], "range": [[1, 0], [11, 5]]},
            "legend": {"title": null, "orient": "none", "legendX": -86.5, "legendY": 603, "direction": "horizontal", "columns": 4,
                       "symbolType": "M-1,0L3,0", "symbolSize": 400, "symbolStrokeColor": "black",
                       "labelFontSize": 18, "labelFont": "DejaVu Sans", "labelColor": "black", "labelOpacity": 0, "labelOffset": 33, "labelLimit": 400,
                       "columnPadding": 37.5, "padding": 5.5, "zindex": 2}}
    }
  },
  {
    "data": {"name": "obs"},
    "mark": {"type": "line", "color": "black", "strokeWidth": 1.3, "strokeJoin": "round"},
    "encoding": {
      "x": {"field": "d", "type": "quantitative", "title": "Days", "scale": {"domain": [1, 1095], "nice": false, "zero": false}},
      "y": {"field": "v", "type": "quantitative", "title": "Groundwater level [m]", "scale": {"domain": [-1.6, -0.6], "nice": false, "zero": false}},
      "strokeDash": {"field": "s", "type": "nominal",
            "scale": {"domain": ["base centre", "base edge", "2016-2018 centre", "2016-2018 edge"], "range": [[1, 0], [11, 5], [1, 0], [5, 2.5]]},
            "legend": {"title": null, "orient": "none", "legendX": -86.5, "legendY": 603, "direction": "horizontal", "columns": 4,
                       "symbolType": "M-1,0L3,0", "symbolSize": 400, "symbolStrokeColor": "black",
                       "labelFontSize": 18, "labelFont": "DejaVu Sans", "labelColor": "black", "labelOffset": 33, "labelLimit": 400,
                       "columnPadding": 37.5, "padding": 5.5, "strokeColor": "#cccccc", "cornerRadius": 4, "zindex": 1}}
    }
  }
]
}
